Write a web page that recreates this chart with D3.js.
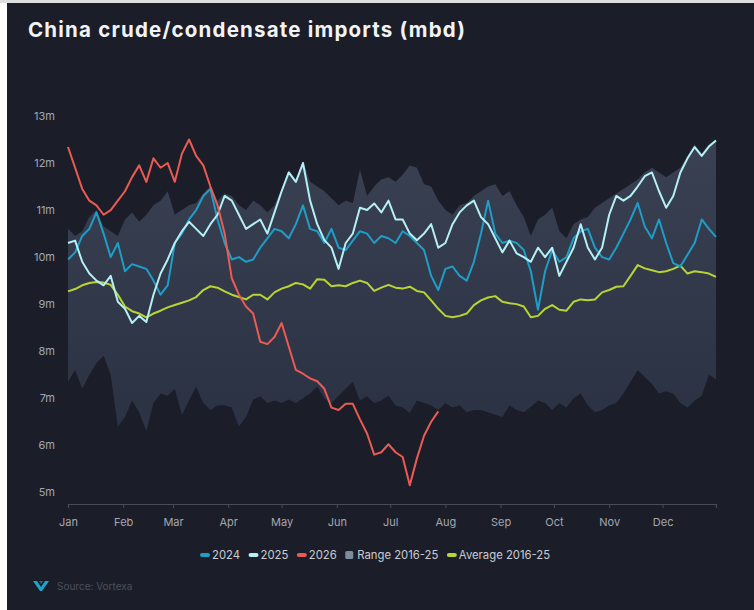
<!DOCTYPE html>
<html>
<head>
<meta charset="utf-8">
<script src="https://cdn.jsdelivr.net/npm/d3@7"></script>
<style>
  html, body { margin: 0; padding: 0; background: #ffffff; }
  svg { display: block; }
</style>
</head>
<body>
<div id="chart"></div>
<script>
// one reading every 4 days, starting 1 Jan
const STEP_DAYS = 4
const MONTHS = ["Jan", "Feb", "Mar", "Apr", "May", "Jun", "Jul", "Aug", "Sep", "Oct", "Nov", "Dec"]
const Y_TICKS = [5, 6, 7, 8, 9, 10, 11, 12, 13]

const avg1625 = [9.27, 9.32, 9.4, 9.45, 9.47, 9.46, 9.41, 9.2, 8.95, 8.85, 8.8, 8.72, 8.8, 8.86, 8.93, 8.98,
  9.03, 9.08, 9.15, 9.3, 9.38, 9.35, 9.27, 9.2, 9.15, 9.1, 9.2, 9.2, 9.1, 9.25, 9.33, 9.38,
  9.45, 9.42, 9.33, 9.53, 9.52, 9.38, 9.4, 9.38, 9.45, 9.5, 9.45, 9.28, 9.35, 9.41, 9.35, 9.33,
  9.37, 9.28, 9.25, 9.08, 8.9, 8.75, 8.72, 8.75, 8.8, 8.98, 9.08, 9.14, 9.17, 9.05, 9.02, 9.0,
  8.95, 8.72, 8.75, 8.9, 8.98, 8.88, 8.86, 9.05, 9.1, 9.08, 9.1, 9.25, 9.3, 9.37, 9.38, 9.6,
  9.83, 9.76, 9.72, 9.68, 9.7, 9.75, 9.82, 9.65, 9.7, 9.68, 9.65, 9.58]

const y2024 = [9.95, 10.1, 10.45, 10.6, 10.95, 10.5, 10.0, 10.3, 9.7, 9.85, 9.8, 9.75, 9.5, 9.2, 9.4, 10.3,
  10.5, 10.8, 11.0, 11.3, 11.45, 10.8, 10.3, 9.95, 10.0, 9.9, 9.95, 10.2, 10.4, 10.6, 10.55, 10.4,
  10.7, 11.1, 10.6, 10.55, 10.3, 10.6, 10.2, 10.15, 10.35, 10.55, 10.5, 10.3, 10.45, 10.4, 10.3, 10.55,
  10.45, 10.3, 10.15, 9.6, 9.3, 9.75, 9.8, 9.6, 9.5, 9.9, 10.5, 11.2, 10.5, 10.3, 10.35, 10.3,
  10.15, 9.7, 8.88, 9.7, 10.15, 9.9, 10.0, 10.4, 10.55, 10.6, 10.2, 10.0, 9.95, 10.2, 10.5, 10.8,
  11.15, 10.65, 10.4, 10.8, 10.3, 9.87, 9.8, 10.05, 10.3, 10.8, 10.6, 10.43]

const y2025 = [10.3, 10.35, 9.9, 9.65, 9.5, 9.4, 9.6, 9.05, 8.9, 8.6, 8.75, 8.62, 9.2, 9.65, 9.95, 10.3,
  10.55, 10.75, 10.6, 10.45, 10.7, 10.9, 11.3, 11.2, 10.9, 10.6, 10.7, 10.8, 10.5, 10.95, 11.4, 11.8,
  11.6, 12.0, 11.2, 10.7, 10.36, 10.2, 9.75, 10.3, 10.5, 11.05, 11.0, 11.14, 10.95, 11.2, 10.8, 10.8,
  10.5, 10.36, 10.5, 10.7, 10.2, 10.3, 10.7, 10.95, 11.1, 11.2, 10.85, 10.7, 10.4, 10.1, 10.35, 10.08,
  10.0, 9.9, 10.2, 10.0, 10.2, 9.6, 9.9, 10.2, 10.7, 10.2, 9.95, 10.2, 10.9, 11.3, 11.2, 11.3,
  11.5, 11.72, 11.8, 11.4, 11.05, 11.3, 11.8, 12.1, 12.34, 12.15, 12.35, 12.48]

// 2026 runs to late July only
const y2026 = [12.34, 11.9, 11.45, 11.2, 11.1, 10.9, 11.0, 11.2, 11.4, 11.7, 11.95, 11.6, 12.1, 11.9, 12.0, 11.6,
  12.2, 12.5, 12.15, 11.95, 11.5, 11.1, 10.5, 9.55, 9.2, 8.95, 8.8, 8.2, 8.15, 8.3, 8.6, 8.1,
  7.6, 7.52, 7.42, 7.36, 7.2, 6.8, 6.75, 6.88, 6.88, 6.55, 6.25, 5.8, 5.85, 6.02, 5.85, 5.75,
  5.15, 5.72, 6.2, 6.5, 6.72]

const rangeMax = [10.6, 10.45, 10.55, 10.85, 11.0, 10.65, 10.55, 10.45, 10.8, 10.95, 10.75, 10.9, 11.1, 11.2, 11.4, 10.9,
  11.0, 11.1, 11.15, 11.35, 11.5, 11.2, 11.35, 11.3, 11.1, 11.0, 11.2, 11.1, 10.95, 11.1, 11.45, 11.85,
  11.65, 12.05, 11.6, 11.5, 11.4, 11.25, 11.1, 11.2, 11.15, 11.85, 11.3, 11.5, 11.65, 11.7, 11.6, 11.75,
  11.95, 11.9, 11.55, 11.5, 11.2, 11.0, 10.9, 11.1, 11.15, 11.3, 11.4, 11.5, 11.55, 11.3, 11.4, 11.1,
  10.85, 10.45, 10.8, 10.9, 11.05, 10.55, 10.4, 10.7, 10.8, 10.85, 11.05, 11.15, 11.25, 11.35, 11.45, 11.55,
  11.65, 11.8, 11.9, 11.8, 11.7, 11.8, 11.9, 12.15, 12.4, 12.2, 12.4, 12.5]

const rangeMin = [7.35, 7.6, 7.2, 7.5, 7.75, 7.9, 7.5, 6.4, 6.6, 6.95, 6.7, 6.3, 6.9, 7.1, 7.05, 7.2,
  6.65, 6.95, 7.25, 6.9, 6.75, 6.85, 6.85, 6.8, 6.4, 6.6, 6.97, 7.04, 6.9, 6.95, 6.9, 6.97,
  6.9, 7.0, 7.1, 7.25, 7.0, 6.9, 7.05, 7.2, 7.35, 6.95, 7.04, 6.9, 6.95, 7.05, 6.85, 6.8,
  6.69, 6.95, 6.9, 6.85, 6.75, 6.9, 6.8, 6.85, 6.7, 6.75, 6.75, 6.7, 6.65, 6.6, 6.85, 6.75,
  6.7, 6.82, 6.95, 6.9, 6.75, 6.9, 6.8, 7.0, 7.1, 6.85, 6.7, 6.75, 6.85, 6.9, 7.1, 7.35,
  7.6, 7.45, 7.3, 7.1, 7.15, 7.1, 6.9, 6.8, 6.95, 7.05, 7.5, 7.4]

const SERIES = [
  { name: "2024", values: y2024, color: "#1f9dc7" },
  { name: "2025", values: y2025, color: "#b4f0f4" },
  { name: "2026", values: y2026, color: "#ec5b53" }
]

const W = 754
const H = 610
const BG = "#1b1e29"
const PLOT = { LEFT: 68, RIGHT: 716, TOP: 116, BOTTOM: 504 }

const start = new Date(2025, 0, 1)
const dateAt = i => d3.timeDay.offset(start, i * STEP_DAYS)

const svg = d3.select("#chart").append("svg")
  .attr("width", W)
  .attr("height", H)
  .style("font-family", "Inter, 'Noto Sans', sans-serif")

// card
svg.append("rect").attr("x", 0).attr("y", 0).attr("width", W).attr("height", 3).attr("fill", "#dedede")
svg.append("rect").attr("x", 7).attr("y", 3).attr("width", W - 7).attr("height", H - 3).attr("fill", BG)

svg.append("text")
  .attr("x", 28)
  .attr("y", 37)
  .attr("fill", "#f2f3f5")
  .attr("font-size", "20.5px")
  .attr("font-weight", 700)
  .attr("textLength", 437)
  .attr("lengthAdjust", "spacing")
  .text("China crude/condensate imports (mbd)")

const x = d3.scaleTime()
  .domain([start, new Date(2025, 11, 31)])
  .range([PLOT.LEFT, PLOT.RIGHT])

const y = d3.scaleLinear()
  .domain([4.75, 13])
  .range([PLOT.BOTTOM, PLOT.TOP])

// range gradient
const grad = svg.append("defs").append("linearGradient")
  .attr("id", "rangeFill")
  .attr("gradientUnits", "userSpaceOnUse")
  .attr("x1", 0).attr("x2", 0)
  .attr("y1", y(12.5)).attr("y2", y(7))
grad.append("stop").attr("offset", "0%").attr("stop-color", "#3a4152")
grad.append("stop").attr("offset", "100%").attr("stop-color", "#2c3345")

const band = rangeMax.map((v, i) => ({ date: dateAt(i), hi: v, lo: rangeMin[i] }))

svg.append("path")
  .datum(band)
  .attr("fill", "url(#rangeFill)")
  .attr("d", d3.area()
    .x(d => x(d.date))
    .y0(d => y(d.lo))
    .y1(d => y(d.hi)))

// y axis labels
const yAxis = svg.append("g")
  .attr("transform", `translate(${PLOT.LEFT - 10}, 0)`)
  .call(d3.axisLeft(y).tickValues(Y_TICKS).tickSize(0).tickFormat(d => d + "m"))
yAxis.select(".domain").remove()
yAxis.selectAll("text")
  .attr("fill", "#a3a7b0")
  .attr("font-size", "11px")
  .attr("font-family", "Inter, sans-serif")

// x axis
const xAxis = svg.append("g")
  .attr("transform", `translate(0, ${PLOT.BOTTOM})`)
  .call(d3.axisBottom(x)
    .ticks(d3.timeMonth.every(1))
    .tickSize(4)
    .tickPadding(10)
    .tickFormat(d => MONTHS[d.getMonth()]))
xAxis.select(".domain").attr("stroke", "#474c58").attr("stroke-width", 1.2)
xAxis.selectAll(".tick line").attr("stroke", "#474c58")
xAxis.selectAll("text")
  .attr("fill", "#a3a7b0")
  .attr("font-size", "11px")
  .attr("font-family", "Inter, sans-serif")

const line = d3.line()
  .x((d, i) => x(dateAt(i)))
  .y(d => y(d))

svg.append("path")
  .datum(avg1625)
  .attr("fill", "none")
  .attr("stroke", "#b8d534")
  .attr("stroke-width", 2)
  .attr("stroke-linejoin", "round")
  .attr("d", line)

svg.selectAll(".series")
  .data(SERIES)
  .enter().append("path")
    .attr("class", "series")
    .attr("fill", "none")
    .attr("stroke", d => d.color)
    .attr("stroke-width", 2)
    .attr("stroke-linejoin", "round")
    .attr("d", d => line(d.values))

// legend
const LEGEND = [
  { label: "2024", color: "#1f9dc7", kind: "line" },
  { label: "2025", color: "#b4f0f4", kind: "line" },
  { label: "2026", color: "#ec5b53", kind: "line" },
  { label: "Range 2016-25", color: "#7d8c9c", kind: "box" },
  { label: "Average 2016-25", color: "#b8d534", kind: "line" }
]

const legend = svg.append("g")
  .attr("transform", "translate(200, 555)")

let lx = 0
LEGEND.forEach(item => {
  const g = legend.append("g").attr("transform", `translate(${lx}, 0)`)
  if (item.kind === "line") {
    g.append("line")
      .attr("x1", 2).attr("x2", 8)
      .attr("y1", 0).attr("y2", 0)
      .attr("stroke", item.color)
      .attr("stroke-width", 4)
      .attr("stroke-linecap", "round")
  } else {
    g.append("rect")
      .attr("x", 0).attr("y", -4)
      .attr("width", 8).attr("height", 8)
      .attr("rx", 1.5)
      .attr("fill", item.color)
  }
  const t = g.append("text")
    .attr("x", 12)
    .attr("y", 4)
    .attr("fill", "#c9ccd3")
    .attr("font-size", "11.3px")
    .text(item.label)
  lx += 12 + t.node().getComputedTextLength() + 8.5
})

// source
const src = svg.append("g").attr("transform", "translate(33, 586)")
src.append("path")
  .attr("d", "M0,-5 L4,-5 L8,1 L12,-5 L16,-5 L9,5 L7,5 Z")
  .attr("fill", "#1fa3cb")
src.append("path")
  .attr("d", "M6,-5 L10,-5 L8,-2 Z")
  .attr("fill", "#147090")
src.append("text")
  .attr("x", 24)
  .attr("y", 4)
  .attr("fill", "#4b505c")
  .attr("font-size", "10px")
  .text("Source: Vortexa")
</script>
</body>
</html>
